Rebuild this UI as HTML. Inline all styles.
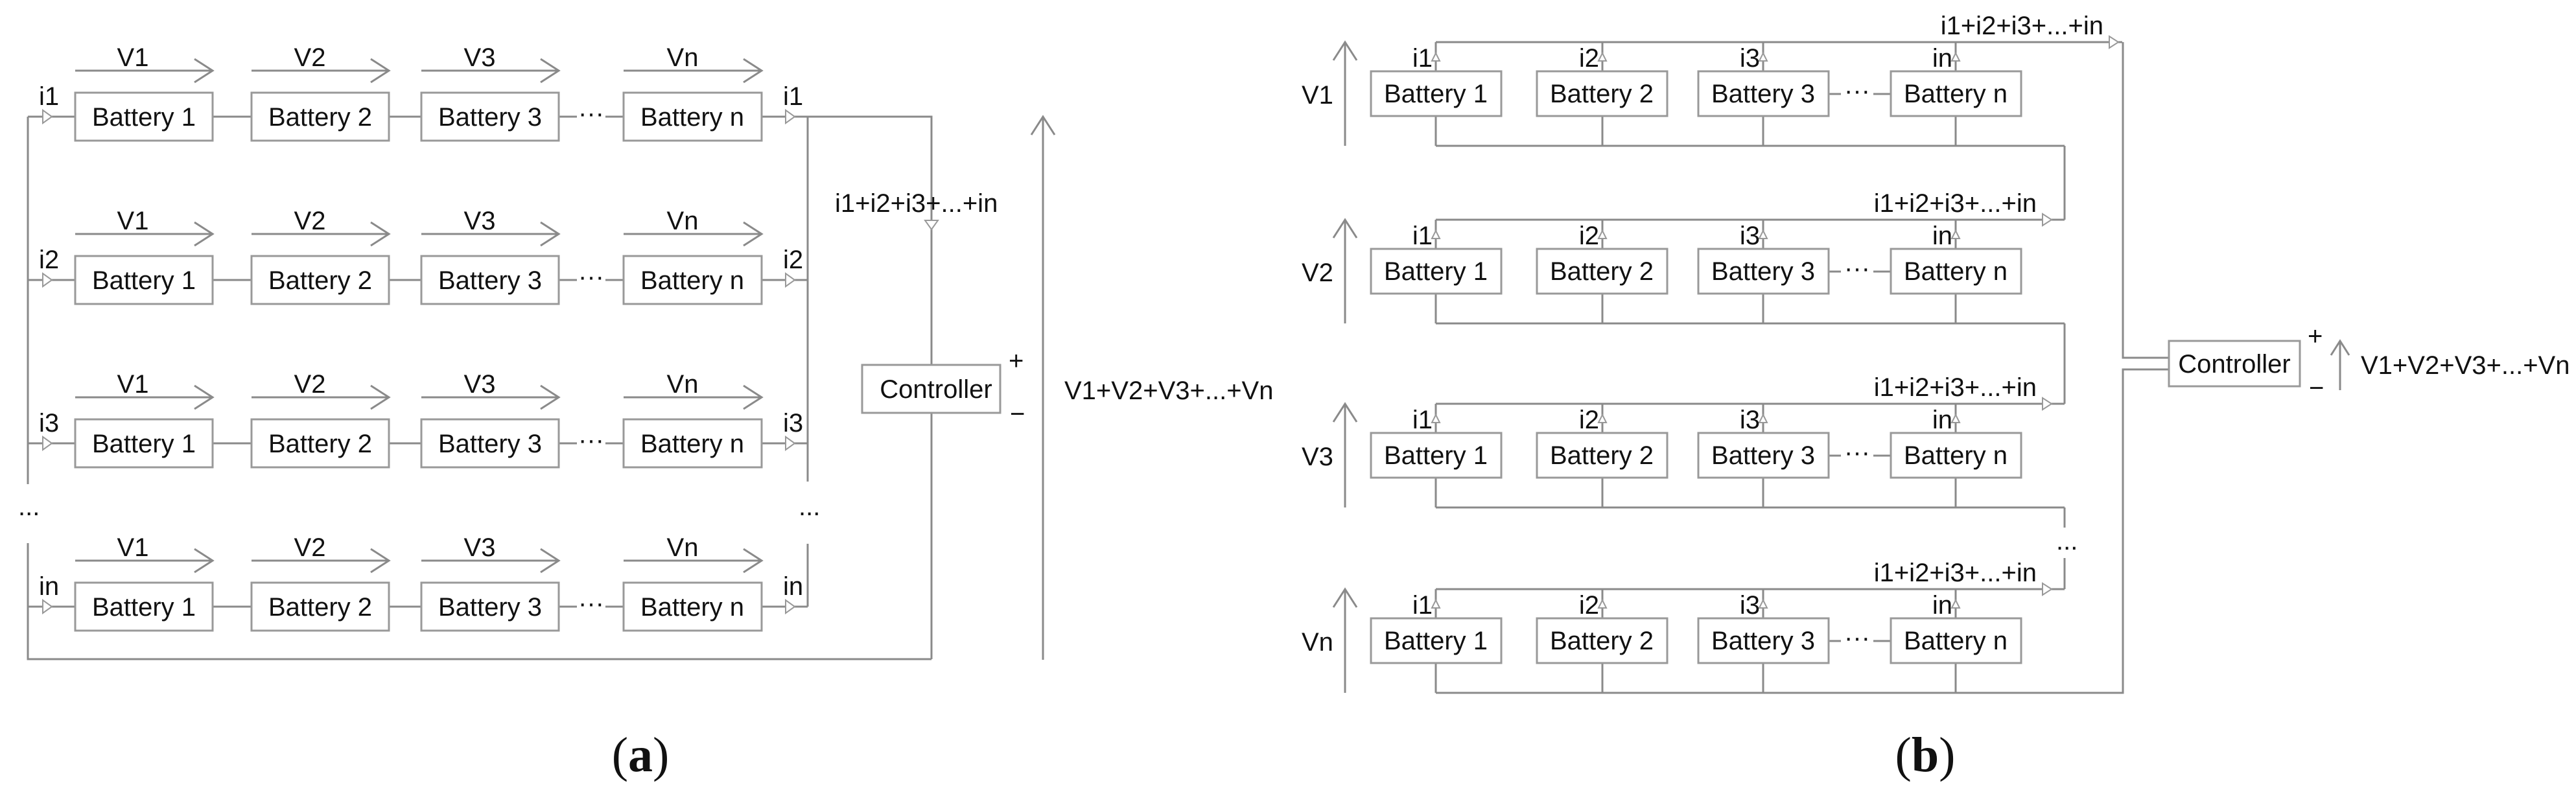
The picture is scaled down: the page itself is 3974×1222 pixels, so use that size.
<!DOCTYPE html>
<html><head><meta charset="utf-8"><style>
html,body{margin:0;padding:0;background:#fff;width:3974px;height:1222px;overflow:hidden}
svg{display:block}
text{font-family:"Liberation Sans",Arial,sans-serif;fill:#111;font-size:40px}
.l{stroke:#8a8a8a;stroke-width:3;fill:none}
.b{stroke:#999;stroke-width:3;fill:#fff}
.t{stroke:#999;stroke-width:2;fill:#fff}
.cap{font-family:"Liberation Serif",serif;font-size:76px}
</style></head><body>
<svg width="3974" height="1222" viewBox="0 0 3974 1222" xmlns="http://www.w3.org/2000/svg">
<!-- ===== (a) ===== -->
<path class="l" d="M43 180V747M43 838V1017H1437M1246 180V743M1246 839V936M1246 180H1437V563M1437 637V1017M1609 1018V180M1591 208L1609 180L1627 208"/>
<g id="rowa1" transform="translate(0,180)">
<path class="l" d="M43 0H116M328 0H388M600 0H650M862 0H890M934 0H962M1175 0H1246"/>
<path class="l" d="M116 -71H328M300 -89L328 -71L300 -53M388 -71H600M572 -89L600 -71L572 -53M650 -71H862M834 -89L862 -71L834 -53M962 -71H1175M1147 -89L1175 -71L1147 -53"/>
<rect class="b" x="116" y="-37" width="212" height="74"/><rect class="b" x="388" y="-37" width="212" height="74"/><rect class="b" x="650" y="-37" width="212" height="74"/><rect class="b" x="962" y="-37" width="213" height="74"/>
<path class="t" d="M66 -10L80 0L66 10Z M1212 -10L1226 0L1212 10Z"/>
<text x="205" y="-78" text-anchor="middle">V1</text><text x="478" y="-78" text-anchor="middle">V2</text><text x="740" y="-78" text-anchor="middle">V3</text><text x="1053" y="-78" text-anchor="middle">Vn</text>
<text x="222" y="14" text-anchor="middle">Battery 1</text><text x="494" y="14" text-anchor="middle">Battery 2</text><text x="756" y="14" text-anchor="middle">Battery 3</text><text x="1068" y="14" text-anchor="middle">Battery n</text>
<text x="912" y="8" text-anchor="middle">···</text>
<text x="60" y="-18">i1</text><text x="1208" y="-18">i1</text>
</g>
<g transform="translate(0,432)">
<path class="l" d="M43 0H116M328 0H388M600 0H650M862 0H890M934 0H962M1175 0H1246"/>
<path class="l" d="M116 -71H328M300 -89L328 -71L300 -53M388 -71H600M572 -89L600 -71L572 -53M650 -71H862M834 -89L862 -71L834 -53M962 -71H1175M1147 -89L1175 -71L1147 -53"/>
<rect class="b" x="116" y="-37" width="212" height="74"/><rect class="b" x="388" y="-37" width="212" height="74"/><rect class="b" x="650" y="-37" width="212" height="74"/><rect class="b" x="962" y="-37" width="213" height="74"/>
<path class="t" d="M66 -10L80 0L66 10Z M1212 -10L1226 0L1212 10Z"/>
<text x="205" y="-78" text-anchor="middle">V1</text><text x="478" y="-78" text-anchor="middle">V2</text><text x="740" y="-78" text-anchor="middle">V3</text><text x="1053" y="-78" text-anchor="middle">Vn</text>
<text x="222" y="14" text-anchor="middle">Battery 1</text><text x="494" y="14" text-anchor="middle">Battery 2</text><text x="756" y="14" text-anchor="middle">Battery 3</text><text x="1068" y="14" text-anchor="middle">Battery n</text>
<text x="912" y="8" text-anchor="middle">···</text>
<text x="60" y="-18">i2</text><text x="1208" y="-18">i2</text>
</g>
<g transform="translate(0,684)">
<path class="l" d="M43 0H116M328 0H388M600 0H650M862 0H890M934 0H962M1175 0H1246"/>
<path class="l" d="M116 -71H328M300 -89L328 -71L300 -53M388 -71H600M572 -89L600 -71L572 -53M650 -71H862M834 -89L862 -71L834 -53M962 -71H1175M1147 -89L1175 -71L1147 -53"/>
<rect class="b" x="116" y="-37" width="212" height="74"/><rect class="b" x="388" y="-37" width="212" height="74"/><rect class="b" x="650" y="-37" width="212" height="74"/><rect class="b" x="962" y="-37" width="213" height="74"/>
<path class="t" d="M66 -10L80 0L66 10Z M1212 -10L1226 0L1212 10Z"/>
<text x="205" y="-78" text-anchor="middle">V1</text><text x="478" y="-78" text-anchor="middle">V2</text><text x="740" y="-78" text-anchor="middle">V3</text><text x="1053" y="-78" text-anchor="middle">Vn</text>
<text x="222" y="14" text-anchor="middle">Battery 1</text><text x="494" y="14" text-anchor="middle">Battery 2</text><text x="756" y="14" text-anchor="middle">Battery 3</text><text x="1068" y="14" text-anchor="middle">Battery n</text>
<text x="912" y="8" text-anchor="middle">···</text>
<text x="60" y="-18">i3</text><text x="1208" y="-18">i3</text>
</g>
<g transform="translate(0,936)">
<path class="l" d="M43 0H116M328 0H388M600 0H650M862 0H890M934 0H962M1175 0H1246"/>
<path class="l" d="M116 -71H328M300 -89L328 -71L300 -53M388 -71H600M572 -89L600 -71L572 -53M650 -71H862M834 -89L862 -71L834 -53M962 -71H1175M1147 -89L1175 -71L1147 -53"/>
<rect class="b" x="116" y="-37" width="212" height="74"/><rect class="b" x="388" y="-37" width="212" height="74"/><rect class="b" x="650" y="-37" width="212" height="74"/><rect class="b" x="962" y="-37" width="213" height="74"/>
<path class="t" d="M66 -10L80 0L66 10Z M1212 -10L1226 0L1212 10Z"/>
<text x="205" y="-78" text-anchor="middle">V1</text><text x="478" y="-78" text-anchor="middle">V2</text><text x="740" y="-78" text-anchor="middle">V3</text><text x="1053" y="-78" text-anchor="middle">Vn</text>
<text x="222" y="14" text-anchor="middle">Battery 1</text><text x="494" y="14" text-anchor="middle">Battery 2</text><text x="756" y="14" text-anchor="middle">Battery 3</text><text x="1068" y="14" text-anchor="middle">Battery n</text>
<text x="912" y="8" text-anchor="middle">···</text>
<text x="60" y="-18">in</text><text x="1208" y="-18">in</text>
</g>
<text x="28" y="795">...</text>
<text x="1232" y="795">...</text>
<text x="1288" y="327">i1+i2+i3+...+in</text>
<path class="t" d="M1427 340L1447 340L1437 354Z"/>
<rect class="b" x="1330" y="563" width="213" height="74"/>
<text x="1444" y="614" text-anchor="middle">Controller</text>
<text x="1556" y="570">+</text><text x="1558" y="652">−</text>
<text x="1642" y="616">V1+V2+V3+...+Vn</text>
<text class="cap" x="988" y="1190" text-anchor="middle">(<tspan font-weight="bold">a</tspan>)</text>

<!-- ===== (b) ===== -->
<path class="l" d="M3185 225V339M3185 499V623M3185 783V814M3185 861V909M3275 65V552H3346M3346 570H3275V1069H2215"/>
<g transform="translate(0,65)">
<path class="l" d="M2215 0H3274M2215 0V45M2472 0V45M2720 0V45M3017 0V45M2215 114V160M2472 114V160M2720 114V160M3017 114V160M2215 160H3185M2821 80H2840M2890 80H2917M2075 160V0M2057 28L2075 0L2093 28"/>
<path class="t" d="M3254 -9L3268 0L3254 9Z M2209 29L2215 17L2221 29Z M2466 29L2472 17L2478 29Z M2714 29L2720 17L2726 29Z M3011 29L3017 17L3023 29Z"/>
<rect class="b" x="2115" y="45" width="201" height="69"/><rect class="b" x="2371" y="45" width="201" height="69"/><rect class="b" x="2620" y="45" width="201" height="69"/><rect class="b" x="2917" y="45" width="201" height="69"/>
<text x="2215" y="93" text-anchor="middle">Battery 1</text><text x="2471" y="93" text-anchor="middle">Battery 2</text><text x="2720" y="93" text-anchor="middle">Battery 3</text><text x="3017" y="93" text-anchor="middle">Battery n</text>
<text x="2865" y="88" text-anchor="middle">···</text>
<text x="2210" y="38" text-anchor="end">i1</text><text x="2467" y="38" text-anchor="end">i2</text><text x="2715" y="38" text-anchor="end">i3</text><text x="3012" y="38" text-anchor="end">in</text>
<text x="2008" y="95">V1</text>
<text x="3245" y="-12" text-anchor="end">i1+i2+i3+...+in</text>
</g>
<g transform="translate(0,339)">
<path class="l" d="M2215 0H3185M2215 0V45M2472 0V45M2720 0V45M3017 0V45M2215 114V160M2472 114V160M2720 114V160M3017 114V160M2215 160H3185M2821 80H2840M2890 80H2917M2075 160V0M2057 28L2075 0L2093 28"/>
<path class="t" d="M3151 -9L3165 0L3151 9Z M2209 29L2215 17L2221 29Z M2466 29L2472 17L2478 29Z M2714 29L2720 17L2726 29Z M3011 29L3017 17L3023 29Z"/>
<rect class="b" x="2115" y="45" width="201" height="69"/><rect class="b" x="2371" y="45" width="201" height="69"/><rect class="b" x="2620" y="45" width="201" height="69"/><rect class="b" x="2917" y="45" width="201" height="69"/>
<text x="2215" y="93" text-anchor="middle">Battery 1</text><text x="2471" y="93" text-anchor="middle">Battery 2</text><text x="2720" y="93" text-anchor="middle">Battery 3</text><text x="3017" y="93" text-anchor="middle">Battery n</text>
<text x="2865" y="88" text-anchor="middle">···</text>
<text x="2210" y="38" text-anchor="end">i1</text><text x="2467" y="38" text-anchor="end">i2</text><text x="2715" y="38" text-anchor="end">i3</text><text x="3012" y="38" text-anchor="end">in</text>
<text x="2008" y="95">V2</text>
<text x="3142" y="-12" text-anchor="end">i1+i2+i3+...+in</text>
</g>
<g transform="translate(0,623)">
<path class="l" d="M2215 0H3185M2215 0V45M2472 0V45M2720 0V45M3017 0V45M2215 114V160M2472 114V160M2720 114V160M3017 114V160M2215 160H3185M2821 80H2840M2890 80H2917M2075 160V0M2057 28L2075 0L2093 28"/>
<path class="t" d="M3151 -9L3165 0L3151 9Z M2209 29L2215 17L2221 29Z M2466 29L2472 17L2478 29Z M2714 29L2720 17L2726 29Z M3011 29L3017 17L3023 29Z"/>
<rect class="b" x="2115" y="45" width="201" height="69"/><rect class="b" x="2371" y="45" width="201" height="69"/><rect class="b" x="2620" y="45" width="201" height="69"/><rect class="b" x="2917" y="45" width="201" height="69"/>
<text x="2215" y="93" text-anchor="middle">Battery 1</text><text x="2471" y="93" text-anchor="middle">Battery 2</text><text x="2720" y="93" text-anchor="middle">Battery 3</text><text x="3017" y="93" text-anchor="middle">Battery n</text>
<text x="2865" y="88" text-anchor="middle">···</text>
<text x="2210" y="38" text-anchor="end">i1</text><text x="2467" y="38" text-anchor="end">i2</text><text x="2715" y="38" text-anchor="end">i3</text><text x="3012" y="38" text-anchor="end">in</text>
<text x="2008" y="95">V3</text>
<text x="3142" y="-12" text-anchor="end">i1+i2+i3+...+in</text>
</g>
<g transform="translate(0,909)">
<path class="l" d="M2215 0H3185M2215 0V45M2472 0V45M2720 0V45M3017 0V45M2215 114V160M2472 114V160M2720 114V160M3017 114V160M2821 80H2840M2890 80H2917M2075 160V0M2057 28L2075 0L2093 28"/>
<path class="t" d="M3151 -9L3165 0L3151 9Z M2209 29L2215 17L2221 29Z M2466 29L2472 17L2478 29Z M2714 29L2720 17L2726 29Z M3011 29L3017 17L3023 29Z"/>
<rect class="b" x="2115" y="45" width="201" height="69"/><rect class="b" x="2371" y="45" width="201" height="69"/><rect class="b" x="2620" y="45" width="201" height="69"/><rect class="b" x="2917" y="45" width="201" height="69"/>
<text x="2215" y="93" text-anchor="middle">Battery 1</text><text x="2471" y="93" text-anchor="middle">Battery 2</text><text x="2720" y="93" text-anchor="middle">Battery 3</text><text x="3017" y="93" text-anchor="middle">Battery n</text>
<text x="2865" y="88" text-anchor="middle">···</text>
<text x="2210" y="38" text-anchor="end">i1</text><text x="2467" y="38" text-anchor="end">i2</text><text x="2715" y="38" text-anchor="end">i3</text><text x="3012" y="38" text-anchor="end">in</text>
<text x="2008" y="95">Vn</text>
<text x="3142" y="-12" text-anchor="end">i1+i2+i3+...+in</text>
</g>
<text x="3172" y="848">...</text>
<rect class="b" x="3346" y="526" width="202" height="70"/>
<text x="3447" y="575" text-anchor="middle">Controller</text>
<text x="3560" y="532">+</text><text x="3562" y="612">−</text>
<path class="l" d="M3610 602V526M3596 548L3610 526L3624 548"/>
<text x="3642" y="577">V1+V2+V3+...+Vn</text>
<text class="cap" x="2970" y="1190" text-anchor="middle">(<tspan font-weight="bold">b</tspan>)</text>
</svg>
</body></html>
